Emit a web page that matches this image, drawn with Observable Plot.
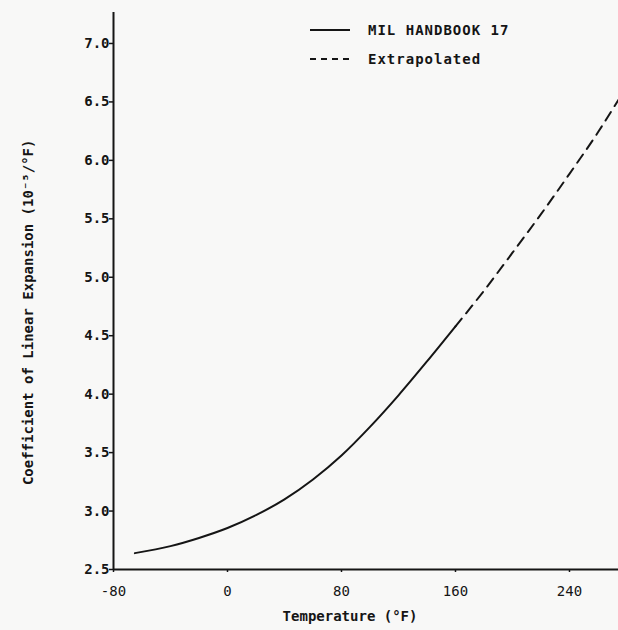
<!DOCTYPE html>
<html>
<head>
<meta charset="utf-8">
<script src="https://cdn.jsdelivr.net/npm/d3@7"></script>
<script src="https://cdn.jsdelivr.net/npm/@observablehq/plot@0.6"></script>
<style>
  html, body { margin: 0; padding: 0; background: #f8f8f7; }
  #wrap { position: relative; width: 618px; height: 630px; }
  #legend { position: absolute; left: 310px; top: 15px; font: bold 14px "DejaVu Sans Mono", monospace; letter-spacing: 1px; color: #151515; }
  #legend .row { display: flex; align-items: center; height: 29px; }
  #legend svg { margin-right: 18px; }
</style>
</head>
<body>
<div id="wrap"><div id="legend"></div></div>
<script>
// Data
const solidTemp  = [-65, -40, -20, 0, 20, 40, 60, 80, 100, 120, 140, 160];
const solidCoef  = [2.64, 2.70, 2.77, 2.855, 2.965, 3.10, 3.27, 3.475, 3.72, 3.99, 4.28, 4.58];
const dashTemp   = [160, 180, 200, 220, 240, 260, 275];
const dashCoef   = [4.58, 4.885, 5.21, 5.54, 5.885, 6.24, 6.53];
const xTicks     = [-80, 0, 80, 160, 240];
const yTicks     = [2.5, 3.0, 3.5, 4.0, 4.5, 5.0, 5.5, 6.0, 6.5, 7.0];
const seriesNames = ["MIL HANDBOOK 17", "Extrapolated"];
const xLabel = "Temperature (°F)";
const yLabel = "Coefficient of Linear Expansion (10⁻⁵/°F)";

const solid = solidTemp.map((t, i) => ({t, c: solidCoef[i]}));
const dashed = dashTemp.map((t, i) => ({t, c: dashCoef[i]}));

const ink = "#151515";
const mono = '"DejaVu Sans Mono", monospace';

const chart = Plot.plot({
  width: 618,
  height: 630,
  marginLeft: 113,
  marginRight: 0,
  marginTop: 12,
  marginBottom: 61,
  style: {background: "transparent", color: ink, fontFamily: mono},
  x: {domain: [-80, 274.4], ticks: xTicks, label: null},
  y: {domain: [2.5, 7.265], ticks: yTicks, label: null},
  marks: [
    Plot.axisY({ticks: yTicks, tickFormat: d => d.toFixed(1), tickSize: 4, tickPadding: 0,
      fontSize: 14, fontWeight: "bold", stroke: ink, strokeWidth: 1.5, style: "letter-spacing:1px"}),
    Plot.axisX({ticks: xTicks, tickFormat: d => String(d), tickSize: 3, tickPadding: 14,
      fontSize: 14, stroke: ink, strokeWidth: 1.5}),
    Plot.ruleX([-80], {stroke: ink, strokeWidth: 2}),
    Plot.ruleY([2.5], {stroke: ink, strokeWidth: 2}),
    Plot.line(solid, {x: "t", y: "c", curve: "monotone-x", stroke: ink, strokeWidth: 2}),
    Plot.line(dashed, {x: "t", y: "c", curve: "monotone-x", stroke: ink, strokeWidth: 2, strokeDasharray: "10,7"}),
    Plot.text([xLabel], {x: 86, frameAnchor: "bottom", dy: 51, text: d => d, fontSize: 14, fontWeight: "bold", fill: ink, style: "letter-spacing:1px"}),
    Plot.text([yLabel], {y: 4.70, frameAnchor: "left", textAnchor: "middle", dx: -85, rotate: -90, text: d => d, fontSize: 14, fontWeight: "bold", fill: ink, style: "letter-spacing:0.5px"})
  ]
});
document.getElementById("wrap").prepend(chart);

const legend = document.getElementById("legend");
seriesNames.forEach((name, i) => {
  const row = document.createElement("div");
  row.className = "row";
  row.innerHTML = `<svg width="40" height="4"><line x1="0" y1="2" x2="40" y2="2" stroke="${ink}" stroke-width="2" ${i ? 'stroke-dasharray="6,5"' : ''}/></svg><span>${name}</span>`;
  legend.appendChild(row);
});
</script>
</body>
</html>
